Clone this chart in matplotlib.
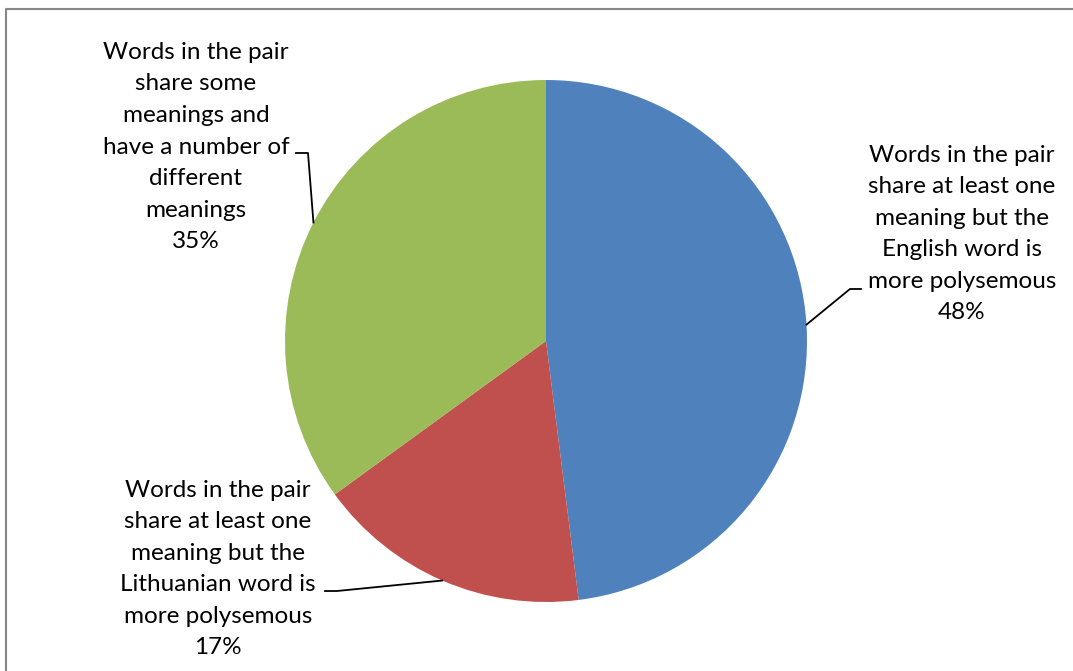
import matplotlib.pyplot as plt
import numpy as np

labels = [
    "Words in the pair\nshare at least one\nmeaning but the\nEnglish word is\nmore polysemous",
    "Words in the pair\nshare at least one\nmeaning but the\nLithuanian word is\nmore polysemous",
    "Words in the pair\nshare some\nmeanings and\nhave a number of\ndifferent\nmeanings",
]
values = [48, 17, 35]
colors = ["#4F81BD", "#C0504D", "#9BBB59"]

W, H = 1073, 671
fig = plt.figure(figsize=(W / 100, H / 100), dpi=100)
ax = fig.add_axes([0, 0, 1, 1])

cx, cy, r = 546, H - 341, 261
wedges, _ = ax.pie(values, colors=colors, startangle=90, counterclock=False,
                   center=(cx, cy), radius=r, frame=True)
ax.set_xlim(0, W)
ax.set_ylim(0, H)
ax.set_aspect("equal")
ax.axis("off")

# chart area border
ax.plot([5.5, 5.5, 1072.5], [0, H - 9, H - 9], color="#868686", lw=1.5,
        clip_on=False, solid_capstyle="butt")

# label positions (pixel coords from top) and leader-line elbows
text_pos = [(962, 234), (218, 569), (196, 147)]
elbows = [[(861, 289), (850, 289)],
          [(325, 591), (337, 591)],
          [(296, 153), (308, 153)]]

for w, lab, v, (tx, ty), elb in zip(wedges, labels, values, text_pos, elbows):
    ang = np.deg2rad((w.theta1 + w.theta2) / 2)
    ex, ey = cx + r * np.cos(ang), cy + r * np.sin(ang)
    xs = [p[0] for p in elb] + [ex]
    ys = [H - p[1] for p in elb] + [ey]
    ax.plot(xs, ys, color="black", lw=1.3)
    ax.text(tx, H - ty, f"{lab}\n{v}%", ha="center", va="center",
            fontsize=17.5, family="Lato", linespacing=1.62, color="black")

fig.savefig("out.png", dpi=100)
